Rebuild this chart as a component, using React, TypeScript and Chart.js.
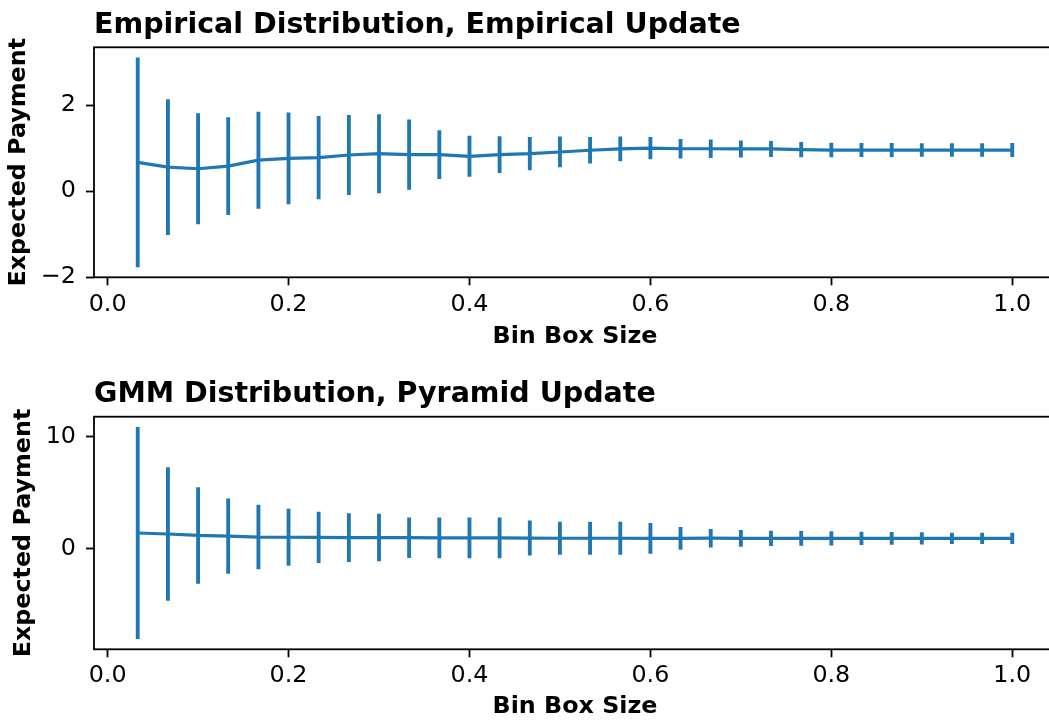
import React, { useEffect, useRef } from "react";
import { Chart, registerables } from "chart.js";

Chart.register(...registerables);

// ---------------- data ----------------
const binSizes = [
  0.0333, 0.0667, 0.1, 0.1333, 0.1667, 0.2, 0.2333, 0.2667, 0.3, 0.3333,
  0.3667, 0.4, 0.4333, 0.4667, 0.5, 0.5333, 0.5667, 0.6, 0.6333, 0.6667,
  0.7, 0.7333, 0.7667, 0.8, 0.8333, 0.8667, 0.9, 0.9333, 0.9667, 1.0,
];

const empiricalMean = [
  0.67, 0.56, 0.52, 0.58, 0.72, 0.76, 0.78, 0.84, 0.87, 0.85,
  0.85, 0.81, 0.85, 0.87, 0.91, 0.95, 0.98, 1.0, 0.985, 0.985,
  0.98, 0.98, 0.965, 0.955, 0.955, 0.955, 0.955, 0.955, 0.955, 0.955,
];
const empiricalErr = [
  2.43, 1.57, 1.28, 1.13, 1.12, 1.06, 0.96, 0.92, 0.91, 0.81,
  0.56, 0.47, 0.42, 0.38, 0.35, 0.3, 0.28, 0.25, 0.22, 0.21,
  0.19, 0.18, 0.17, 0.16, 0.155, 0.155, 0.15, 0.15, 0.15, 0.155,
];

const gmmMean = [
  1.38, 1.29, 1.16, 1.1, 1.02, 1.0, 0.99, 0.97, 0.97, 0.96,
  0.95, 0.95, 0.95, 0.93, 0.91, 0.91, 0.91, 0.9, 0.9, 0.915,
  0.9, 0.9, 0.9, 0.9, 0.9, 0.9, 0.9, 0.9, 0.9, 0.9,
];
const gmmErr = [
  9.45, 5.93, 4.29, 3.33, 2.86, 2.52, 2.26, 2.15, 2.09, 1.78,
  1.79, 1.79, 1.79, 1.54, 1.45, 1.45, 1.45, 1.35, 0.99, 0.8,
  0.72, 0.66, 0.63, 0.6, 0.57, 0.54, 0.51, 0.48, 0.47, 0.47,
];

const xTicks = [0, 0.2, 0.4, 0.6, 0.8, 1.0];
const empiricalYTicks = [-2, 0, 2];
const gmmYTicks = [0, 10];

const empiricalTitle = "Empirical Distribution, Empirical Update";
const gmmTitle = "GMM Distribution, Pyramid Update";
const xLabel = "Bin Box Size";
const yLabel = "Expected Payment";

// ---------------- styling ----------------
const BLUE = "#1f77b4";
const FONT = "'DejaVu Sans', 'Liberation Sans', sans-serif";
const CANVAS_W = 1070;
const CANVAS_H = 360;
const TEXT_SIZE = 23.8;
const TITLE_SIZE = 28.5;

function withMargin(lo: number, hi: number) {
  const m = (hi - lo) * 0.05;
  return [lo - m, hi + m];
}

function fmtY(v: number) {
  return v < 0 ? "\u2212" + Math.abs(v) : String(v);
}

type PanelProps = {
  top: number;
  title: string;
  mean: number[];
  err: number[];
  yTicks: number[];
  padTop: number;
  xAxisHeight: number;
  xTickPad: number;
  xTitlePad: number;
  yTitlePad: number;
};

function Panel(p: PanelProps) {
  const ref = useRef<HTMLCanvasElement | null>(null);

  useEffect(() => {
    if (!ref.current) return;
    const lows = p.mean.map((m, i) => m - p.err[i]);
    const highs = p.mean.map((m, i) => m + p.err[i]);
    const [yMin, yMax] = withMargin(Math.min(...lows), Math.max(...highs));
    const [xMin, xMax] = withMargin(Math.min(...binSizes), Math.max(...binSizes));

    const framePlugin = {
      id: "frameAndTitle",
      afterDraw(chart: any) {
        const { ctx, chartArea } = chart;
        ctx.save();
        ctx.strokeStyle = "#000";
        ctx.lineWidth = 1.8;
        ctx.strokeRect(
          chartArea.left,
          chartArea.top,
          chartArea.right - chartArea.left,
          chartArea.bottom - chartArea.top
        );
        ctx.fillStyle = "#000";
        ctx.font = `bold ${TITLE_SIZE}px ${FONT}`;
        ctx.textAlign = "left";
        ctx.textBaseline = "alphabetic";
        ctx.fillText(p.title, chartArea.left, chartArea.top - 14.5);
        ctx.restore();
      },
    };

    const chart = new Chart(ref.current, {
      type: "line",
      data: {
        datasets: [
          {
            type: "line",
            data: binSizes.map((x, i) => ({ x, y: p.mean[i] })),
            borderColor: BLUE,
            borderWidth: 3.2,
            pointRadius: 0,
            tension: 0,
            fill: false,
            order: 0,
          } as any,
          {
            type: "bar",
            data: binSizes.map((x, i) => ({ x, y: [lows[i], highs[i]] })),
            backgroundColor: BLUE,
            borderWidth: 0,
            barThickness: 3.2,
            order: 1,
          } as any,
        ],
      },
      options: {
        animation: false,
        responsive: false,
        devicePixelRatio: 1,
        layout: { padding: { top: p.padTop, left: 0, right: CANVAS_W - 1056, bottom: 0 } },
        plugins: {
          legend: { display: false },
          title: { display: false },
          tooltip: { enabled: false },
        },
        scales: {
          x: {
            type: "linear",
            min: xMin,
            max: xMax,
            offset: false,
            afterBuildTicks: (s: any) => {
              s.ticks = xTicks.map((v) => ({ value: v }));
            },
            afterFit: (s: any) => {
              s.height = p.xAxisHeight;
            },
            ticks: {
              autoSkip: false,
              maxRotation: 0,
              padding: p.xTickPad,
              color: "#000",
              font: { family: FONT, size: TEXT_SIZE },
              callback: (v: any) => Number(v).toFixed(1),
            },
            grid: {
              drawOnChartArea: false,
              drawTicks: true,
              tickLength: 8,
              tickColor: "#000",
              tickWidth: 1.8,
              offset: false,
            },
            border: { display: false },
            title: {
              display: true,
              text: xLabel,
              color: "#000",
              font: { family: FONT, size: TEXT_SIZE, weight: "bold" },
              padding: { top: 0, bottom: p.xTitlePad },
            },
          },
          y: {
            type: "linear",
            min: yMin,
            max: yMax,
            afterBuildTicks: (s: any) => {
              s.ticks = p.yTicks.map((v) => ({ value: v }));
            },
            afterFit: (s: any) => {
              s.width = 94;
            },
            ticks: {
              autoSkip: false,
              padding: 10,
              color: "#000",
              font: { family: FONT, size: TEXT_SIZE },
              callback: (v: any) => fmtY(Number(v)),
            },
            grid: {
              drawOnChartArea: false,
              drawTicks: true,
              tickLength: 8,
              tickColor: "#000",
              tickWidth: 1.8,
            },
            border: { display: false },
            title: {
              display: true,
              text: yLabel,
              color: "#000",
              font: { family: FONT, size: TEXT_SIZE, weight: "bold" },
              padding: { top: p.yTitlePad, bottom: 0 },
            },
          },
        },
      } as any,
      plugins: [framePlugin],
    });
    return () => chart.destroy();
  }, []);

  return (
    <canvas
      ref={ref}
      width={CANVAS_W}
      height={CANVAS_H}
      style={{ position: "absolute", left: 0, top: p.top, width: CANVAS_W, height: CANVAS_H }}
    />
  );
}

export default function App() {
  return (
    <div
      style={{
        position: "fixed",
        left: 0,
        top: 0,
        width: 1049,
        height: 720,
        overflow: "hidden",
        background: "#fff",
      }}
    >
      <Panel
        top={0}
        title={empiricalTitle}
        mean={empiricalMean}
        err={empiricalErr}
        yTicks={empiricalYTicks}
        padTop={47.3}
        xAxisHeight={82.7}
        xTickPad={5.5}
        xTitlePad={8.7}
        yTitlePad={5}
      />
      <Panel
        top={362}
        title={gmmTitle}
        mean={gmmMean}
        err={gmmErr}
        yTicks={gmmYTicks}
        padTop={54.7}
        xAxisHeight={72.7}
        xTickPad={4.5}
        xTitlePad={0.7}
        yTitlePad={10}
      />
    </div>
  );
}
